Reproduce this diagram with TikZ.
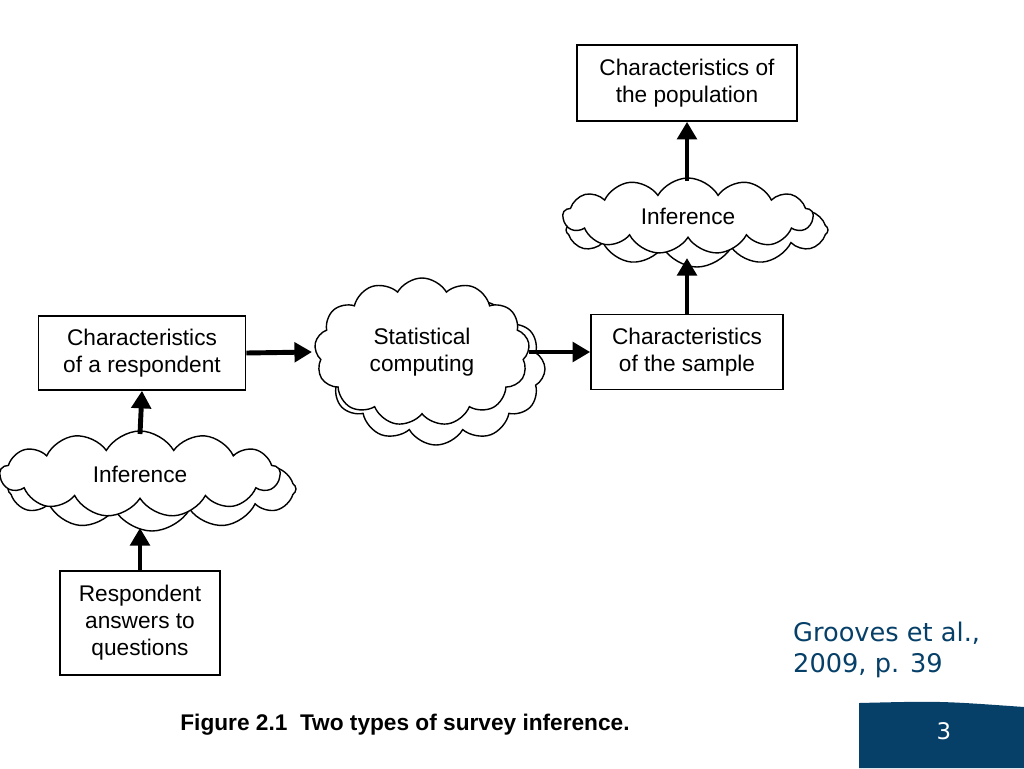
\documentclass[tikz,border=0pt]{standalone}
\usepackage{fontspec}
\setmainfont{Liberation Sans}
\newfontfamily\slidefont{DejaVu Sans}
\usetikzlibrary{shapes.symbols,arrows.meta}
\definecolor{slideblue}{RGB}{6,64,104}
\begin{document}
\begin{tikzpicture}[x=0.02cm,y=-0.02cm]
\tikzstyle{box node}=[rectangle,draw,line width=0.9pt,align=center,font=\fontsize{12.9}{15.3}\selectfont,inner sep=0]
\tikzset{
	cloud node/.style={cloud,cloud ignores aspect,draw,fill=white,line width=0.8pt,cloud puffs=13,cloud puff arc=120,font=\fontsize{12.9}{15.3}\selectfont,align=center,inner sep=0},
	back cloud/.style={cloud,cloud ignores aspect,draw,fill=white,line width=0.8pt,cloud puffs=12,cloud puff arc=120}
}
\tikzstyle{thick arrow}=[line width=2.8pt,-{Triangle[length=10pt,width=11pt]}]
\useasboundingbox (0,0) rectangle (1024,768);
% boxes
\node[box node,minimum width=220*0.02cm,minimum height=76*0.02cm] (pop) at (687,83) {Characteristics of\\the population};
\node[box node,minimum width=207*0.02cm,minimum height=74*0.02cm] (resp) at (142,353) {Characteristics\\of a respondent};
\node[box node,minimum width=192*0.02cm,minimum height=75*0.02cm] (samp) at (687,352) {Characteristics\\of the sample};
\node[box node,minimum width=160*0.02cm,minimum height=104*0.02cm] (ans) at (140,623) {Respondent\\answers to\\questions};
% clouds
\node[back cloud,minimum width=262*0.02cm,minimum height=74*0.02cm] at (697,230) {};
\node[cloud node,minimum width=250*0.02cm,minimum height=76*0.02cm] (infTop) at (688,216) {Inference};
\node[back cloud,minimum width=288*0.02cm,minimum height=84*0.02cm] at (152,489) {};
\node[cloud node,minimum width=280*0.02cm,minimum height=86*0.02cm] (infBot) at (140,474) {Inference};
\node[back cloud,minimum width=218*0.02cm,minimum height=152*0.02cm] at (436,369) {};
\node[cloud node,minimum width=215*0.02cm,minimum height=148*0.02cm] (stat) at (422,352) {Statistical\\computing};
% arrows
\draw[thick arrow] (resp.east) -- (312,352);
\draw[thick arrow] (529,352) -- (samp.west);
\draw[thick arrow] (samp.north) -- (687,258);
\draw[thick arrow] (687,181) -- (pop.south);
\draw[thick arrow] (ans.north) -- (140,528);
\draw[thick arrow] (140,434) -- (resp.south);
% caption and slide parts
\node[font=\bfseries\fontsize{12.9}{15}\selectfont] (cap) at (405,725) {Figure 2.1\ \ Two types of survey inference.};
\node[font=\slidefont\fontsize{14.6}{17.5}\selectfont,text=slideblue,align=left,anchor=west] (cite) at (787,650) {Grooves et al.,\\2009, p. 39};
\fill[slideblue] (859,768) -- (859,703) .. controls (940,701) .. (1024,707) -- (1024,768) -- cycle;
\node[font=\slidefont\fontsize{13}{15}\selectfont,text=white] (num) at (944,731) {3};
\end{tikzpicture}
\end{document}
